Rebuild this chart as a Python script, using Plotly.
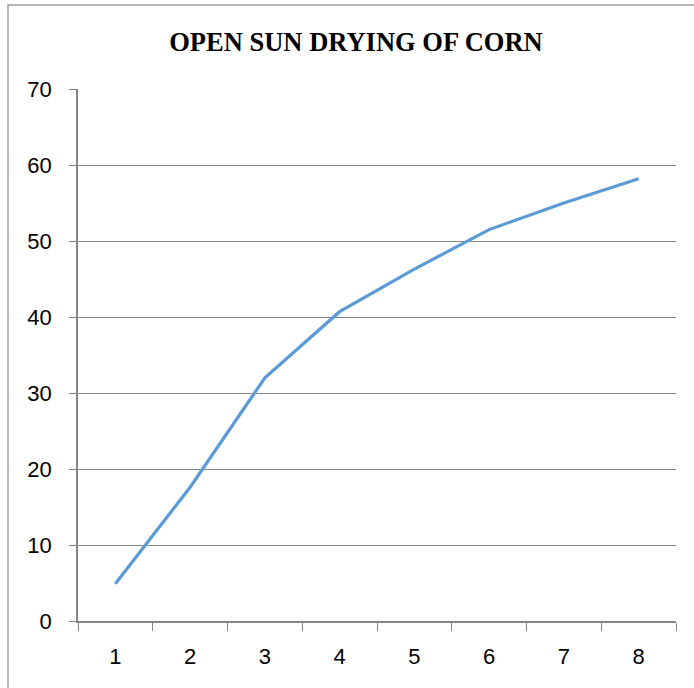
import plotly.graph_objects as go

days = ["1", "2", "3", "4", "5", "6", "7", "8"]
moisture_loss = [4.9, 17.6, 32.0, 40.7, 46.3, 51.5, 55.0, 58.2]
y_ticks = [0, 10, 20, 30, 40, 50, 60, 70]

tick_font = dict(family="Liberation Sans, Arial, sans-serif", size=22, color="#000000")

fig = go.Figure()
fig.add_trace(go.Scatter(x=days, y=moisture_loss, mode="lines",
                         line=dict(color="#5B9BD5", width=3.2), showlegend=False))

fig.update_layout(
    width=694, height=688,
    margin=dict(l=78, r=18, t=89, b=67),
    paper_bgcolor="white", plot_bgcolor="white",
    title=dict(text="<b>OPEN SUN DRYING OF CORN</b>",
               font=dict(family="Liberation Serif, Times New Roman, serif", size=26.5, color="#000000"),
               x=0.513, xanchor="center", y=1 - 42 / 688, yanchor="middle"),
    shapes=[dict(type="rect", xref="paper", yref="paper",
                 x0=(8 - 78) / 598, x1=1.5, y0=-0.5, y1=(621 - 5) / 532,
                 line=dict(color="#a0a0a0", width=1.5), layer="below")],
)

fig.update_xaxes(type="category", range=[-0.5, 7.5], tickson="boundaries",
                 ticks="outside", ticklen=8, tickcolor="#868686", tickwidth=1.3,
                 showgrid=False, showline=True, linecolor="#868686", linewidth=1.5,
                 tickfont=tick_font, ticklabelstandoff=15)
fig.update_yaxes(range=[0, 70], tickvals=y_ticks, ticks="outside", ticklen=7,
                 tickcolor="#868686", tickwidth=1.3,
                 showgrid=True, gridcolor="#868686", gridwidth=1.4,
                 showline=True, linecolor="#868686", linewidth=1.5,
                 zeroline=False, tickfont=tick_font, ticklabelstandoff=13)

# drop the default page margin so the figure sits at the window corner
fig.write_html("out.html", config={"displayModeBar": False},
               post_script="document.body.style.margin='0';")
